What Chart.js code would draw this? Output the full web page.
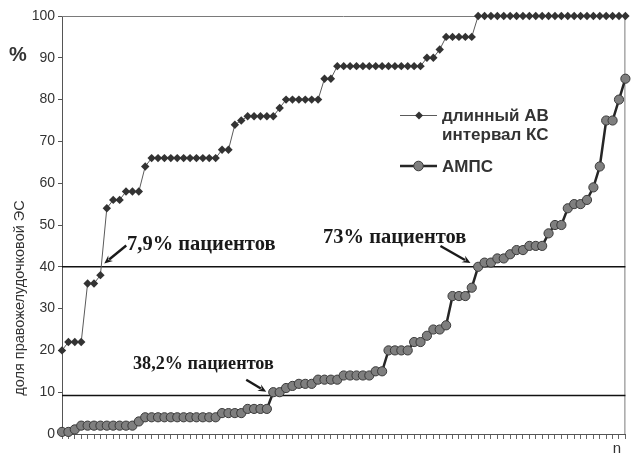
<!DOCTYPE html>
<html>
<head>
<meta charset="utf-8">
<script src="https://cdn.jsdelivr.net/npm/chart.js@4.4.1/dist/chart.umd.min.js"></script>
<style>
    html, body { margin: 0; padding: 0; background: #ffffff; }
</style>
</head>
<body>
<canvas id="chart" width="631" height="455"></canvas>
<script>
// Patients sorted by their share of right-ventricular extrasystoles, one category per patient (n = 89).
const patients = Array.from({ length: 89 }, (_, i) => String(i + 1));

// "длинный АВ интервал КС" series (%).
const longAvValues = [
    20, 22, 22, 22, 36, 36, 38, 54, 56, 56, 58, 58, 58, 64,
    66, 66, 66, 66, 66, 66, 66, 66, 66, 66, 66,
    68, 68, 74, 75, 76, 76, 76, 76, 76, 78,
    80, 80, 80, 80, 80, 80, 85, 85,
    88, 88, 88, 88, 88, 88, 88, 88, 88, 88, 88, 88, 88, 88,
    90, 90, 92, 95, 95, 95, 95, 95,
    100, 100, 100, 100, 100, 100, 100, 100, 100, 100, 100, 100,
    100, 100, 100, 100, 100, 100, 100, 100, 100, 100, 100, 100,
];

// "АМПС" series (%).
const ampsValues = [
    0.5, 0.5, 1.1, 2, 2, 2, 2, 2, 2, 2, 2, 2, 3,
    4, 4, 4, 4, 4, 4, 4, 4, 4, 4, 4, 4,
    5, 5, 5, 5, 6, 6, 6, 6,
    10, 10, 11, 11.5, 12, 12, 12, 13, 13, 13, 13,
    14, 14, 14, 14, 14, 15, 15, 20, 20, 20, 20, 22, 22,
    23.5, 25, 25, 26, 33, 33, 33, 35,
    40, 41, 41, 42, 42, 43, 44, 44, 45, 45, 45, 48, 50, 50,
    54, 55, 55, 56, 59, 64, 75, 75, 80, 85,
];

// Threshold lines drawn across the whole patient axis.
const upperThreshold = [{ x: patients[0], y: 40 }, { x: patients[patients.length - 1], y: 40 }];
const lowerThreshold = [{ x: patients[0], y: 9.2 }, { x: patients[patients.length - 1], y: 9.2 }];

const yTicks = [0, 10, 20, 30, 40, 50, 60, 70, 80, 90, 100];

const SANS = "'Liberation Sans', Arial, sans-serif";
const SERIF = "'Liberation Serif', 'Times New Roman', serif";
const INK = "#333333";

// Callouts: arrow tip sits on the chart in data units (patient index, %), tail and text offset in px.
const callouts = [
    { text: "7,9% пациентов", size: 20.5, tip: [6.6, 40.8], tail: [22, -18], textAt: [127, 250] },
    { text: "73% пациентов", size: 20.5, tip: [63.8, 40.9], tail: [-30, -17], textAt: [323, 243] },
    { text: "38,2% пациентов", size: 18.2, tip: [31.9, 10.1], tail: [-20, -12], textAt: [133, 369], box: true },
];

function drawArrow(ctx, fromX, fromY, toX, toY) {
    const angle = Math.atan2(toY - fromY, toX - fromX);
    const head = 9;
    ctx.lineWidth = 2.4;
    ctx.beginPath();
    ctx.moveTo(fromX, fromY);
    ctx.lineTo(toX - Math.cos(angle) * head * 0.7, toY - Math.sin(angle) * head * 0.7);
    ctx.stroke();
    ctx.beginPath();
    ctx.moveTo(toX, toY);
    ctx.lineTo(toX - head * Math.cos(angle - 0.42), toY - head * Math.sin(angle - 0.42));
    ctx.lineTo(toX - head * 0.6 * Math.cos(angle), toY - head * 0.6 * Math.sin(angle));
    ctx.lineTo(toX - head * Math.cos(angle + 0.42), toY - head * Math.sin(angle + 0.42));
    ctx.closePath();
    ctx.fill();
}

// Top and right edges of the plot frame (the axes give left and bottom).
const frameplugin = {
    id: "frame",
    beforeDatasetsDraw(chart) {
        const { ctx, chartArea } = chart;
        ctx.save();
        ctx.strokeStyle = "#7a7a7a";
        ctx.lineWidth = 1;
        ctx.beginPath();
        ctx.moveTo(chartArea.left, chartArea.top + 0.5);
        ctx.lineTo(chartArea.right - 0.5, chartArea.top + 0.5);
        ctx.lineTo(chartArea.right - 0.5, chartArea.bottom);
        ctx.stroke();
        ctx.restore();
    },
};

// Legend, axis captions and the callout arrows.
const overlayPlugin = {
    id: "overlay",
    afterDraw(chart) {
        const { ctx } = chart;
        const { x, y } = chart.scales;
        ctx.save();

        // y-axis caption and "%"
        ctx.fillStyle = INK;
        ctx.font = `14.5px ${SANS}`;
        ctx.textAlign = "center";
        ctx.textBaseline = "middle";
        ctx.translate(20, 298);
        ctx.rotate(-Math.PI / 2);
        ctx.fillText("доля правожелудочковой ЭС", 0, 0);
        ctx.setTransform(1, 0, 0, 1, 0, 0);
        ctx.font = `bold 20px ${SANS}`;
        ctx.fillText("%", 18, 55);
        ctx.font = `15px ${SANS}`;
        ctx.textBaseline = "alphabetic";
        ctx.fillText("n", 617, 453);

        // legend
        ctx.strokeStyle = "#5a5a5a";
        ctx.lineWidth = 1;
        ctx.beginPath();
        ctx.moveTo(400, 115.5);
        ctx.lineTo(437, 115.5);
        ctx.stroke();
        ctx.fillStyle = "#333";
        ctx.beginPath();
        ctx.moveTo(419, 111.5);
        ctx.lineTo(423, 115.5);
        ctx.lineTo(419, 119.5);
        ctx.lineTo(415, 115.5);
        ctx.closePath();
        ctx.fill();

        ctx.strokeStyle = "#262626";
        ctx.lineWidth = 2.5;
        ctx.beginPath();
        ctx.moveTo(400, 166);
        ctx.lineTo(437, 166);
        ctx.stroke();
        ctx.fillStyle = "#7f7f7f";
        ctx.strokeStyle = "#3a3a3a";
        ctx.lineWidth = 1;
        ctx.beginPath();
        ctx.arc(418.5, 166, 4.8, 0, Math.PI * 2);
        ctx.fill();
        ctx.stroke();

        ctx.fillStyle = INK;
        ctx.textAlign = "left";
        ctx.font = `bold 17px ${SANS}`;
        ctx.fillText("длинный АВ", 442, 121);
        ctx.fillText("интервал КС", 442, 140);
        ctx.fillText("АМПС", 442, 172);

        // callouts
        callouts.forEach((c) => {
            const tipX = x.getPixelForValue(c.tip[0]);
            const tipY = y.getPixelForValue(c.tip[1]);
            ctx.font = `bold ${c.size}px ${SERIF}`;
            if (c.box) {
                const w = ctx.measureText(c.text).width;
                ctx.fillStyle = "#ffffff";
                ctx.fillRect(c.textAt[0] - 20, c.textAt[1] - 13, w + 35, 19);
            }
            ctx.fillStyle = "#1a1a1a";
            ctx.strokeStyle = "#1a1a1a";
            ctx.fillText(c.text, c.textAt[0], c.textAt[1]);
            drawArrow(ctx, tipX + c.tail[0], tipY + c.tail[1], tipX, tipY);
        });

        ctx.restore();
    },
};

const config = {
    type: "line",
    data: {
        labels: patients,
        datasets: [
            {
                label: "длинный АВ интервал КС",
                data: longAvValues,
                borderColor: "#5a5a5a",
                borderWidth: 1,
                pointStyle: "rectRot",
                pointRadius: 4.2,
                pointBackgroundColor: "#333333",
                pointBorderColor: "#333333",
                pointBorderWidth: 0,
                tension: 0,
                clip: false,
            },
            {
                label: "АМПС",
                data: ampsValues,
                borderColor: "#262626",
                borderWidth: 2.5,
                pointRadius: 4.6,
                pointBackgroundColor: "#7f7f7f",
                pointBorderColor: "#3a3a3a",
                pointBorderWidth: 1,
                tension: 0,
                clip: false,
            },
            // Threshold lines last so they are drawn beneath the series.
            { data: upperThreshold, borderColor: "#111111", borderWidth: 1.5, pointRadius: 0 },
            { data: lowerThreshold, borderColor: "#111111", borderWidth: 1.5, pointRadius: 0 },
        ],
    },
    options: {
        responsive: false,
        animation: false,
        devicePixelRatio: 1,
        layout: { padding: { top: 16, right: 4, bottom: 16, left: 0 } },
        scales: {
            x: {
                type: "category",
                offset: false,
                grid: { display: true, drawOnChartArea: false, drawTicks: true, tickLength: 5, color: "#666666" },
                border: { color: "#555555", width: 1 },
                ticks: { display: false, autoSkip: false },
            },
            y: {
                min: 0,
                max: 100,
                afterFit(scale) { scale.width = 62; },
                afterBuildTicks(scale) { scale.ticks = yTicks.map((v) => ({ value: v })); },
                grid: { display: true, drawOnChartArea: false, tickLength: 4, color: "#555555" },
                border: { color: "#555555", width: 1 },
                ticks: { font: { family: SANS, size: 14 }, color: INK, padding: 3 },
            },
        },
        plugins: { legend: { display: false }, tooltip: { enabled: false } },
    },
    plugins: [frameplugin, overlayPlugin],
};

new Chart(document.getElementById("chart").getContext("2d"), config);
</script>
</body>
</html>
